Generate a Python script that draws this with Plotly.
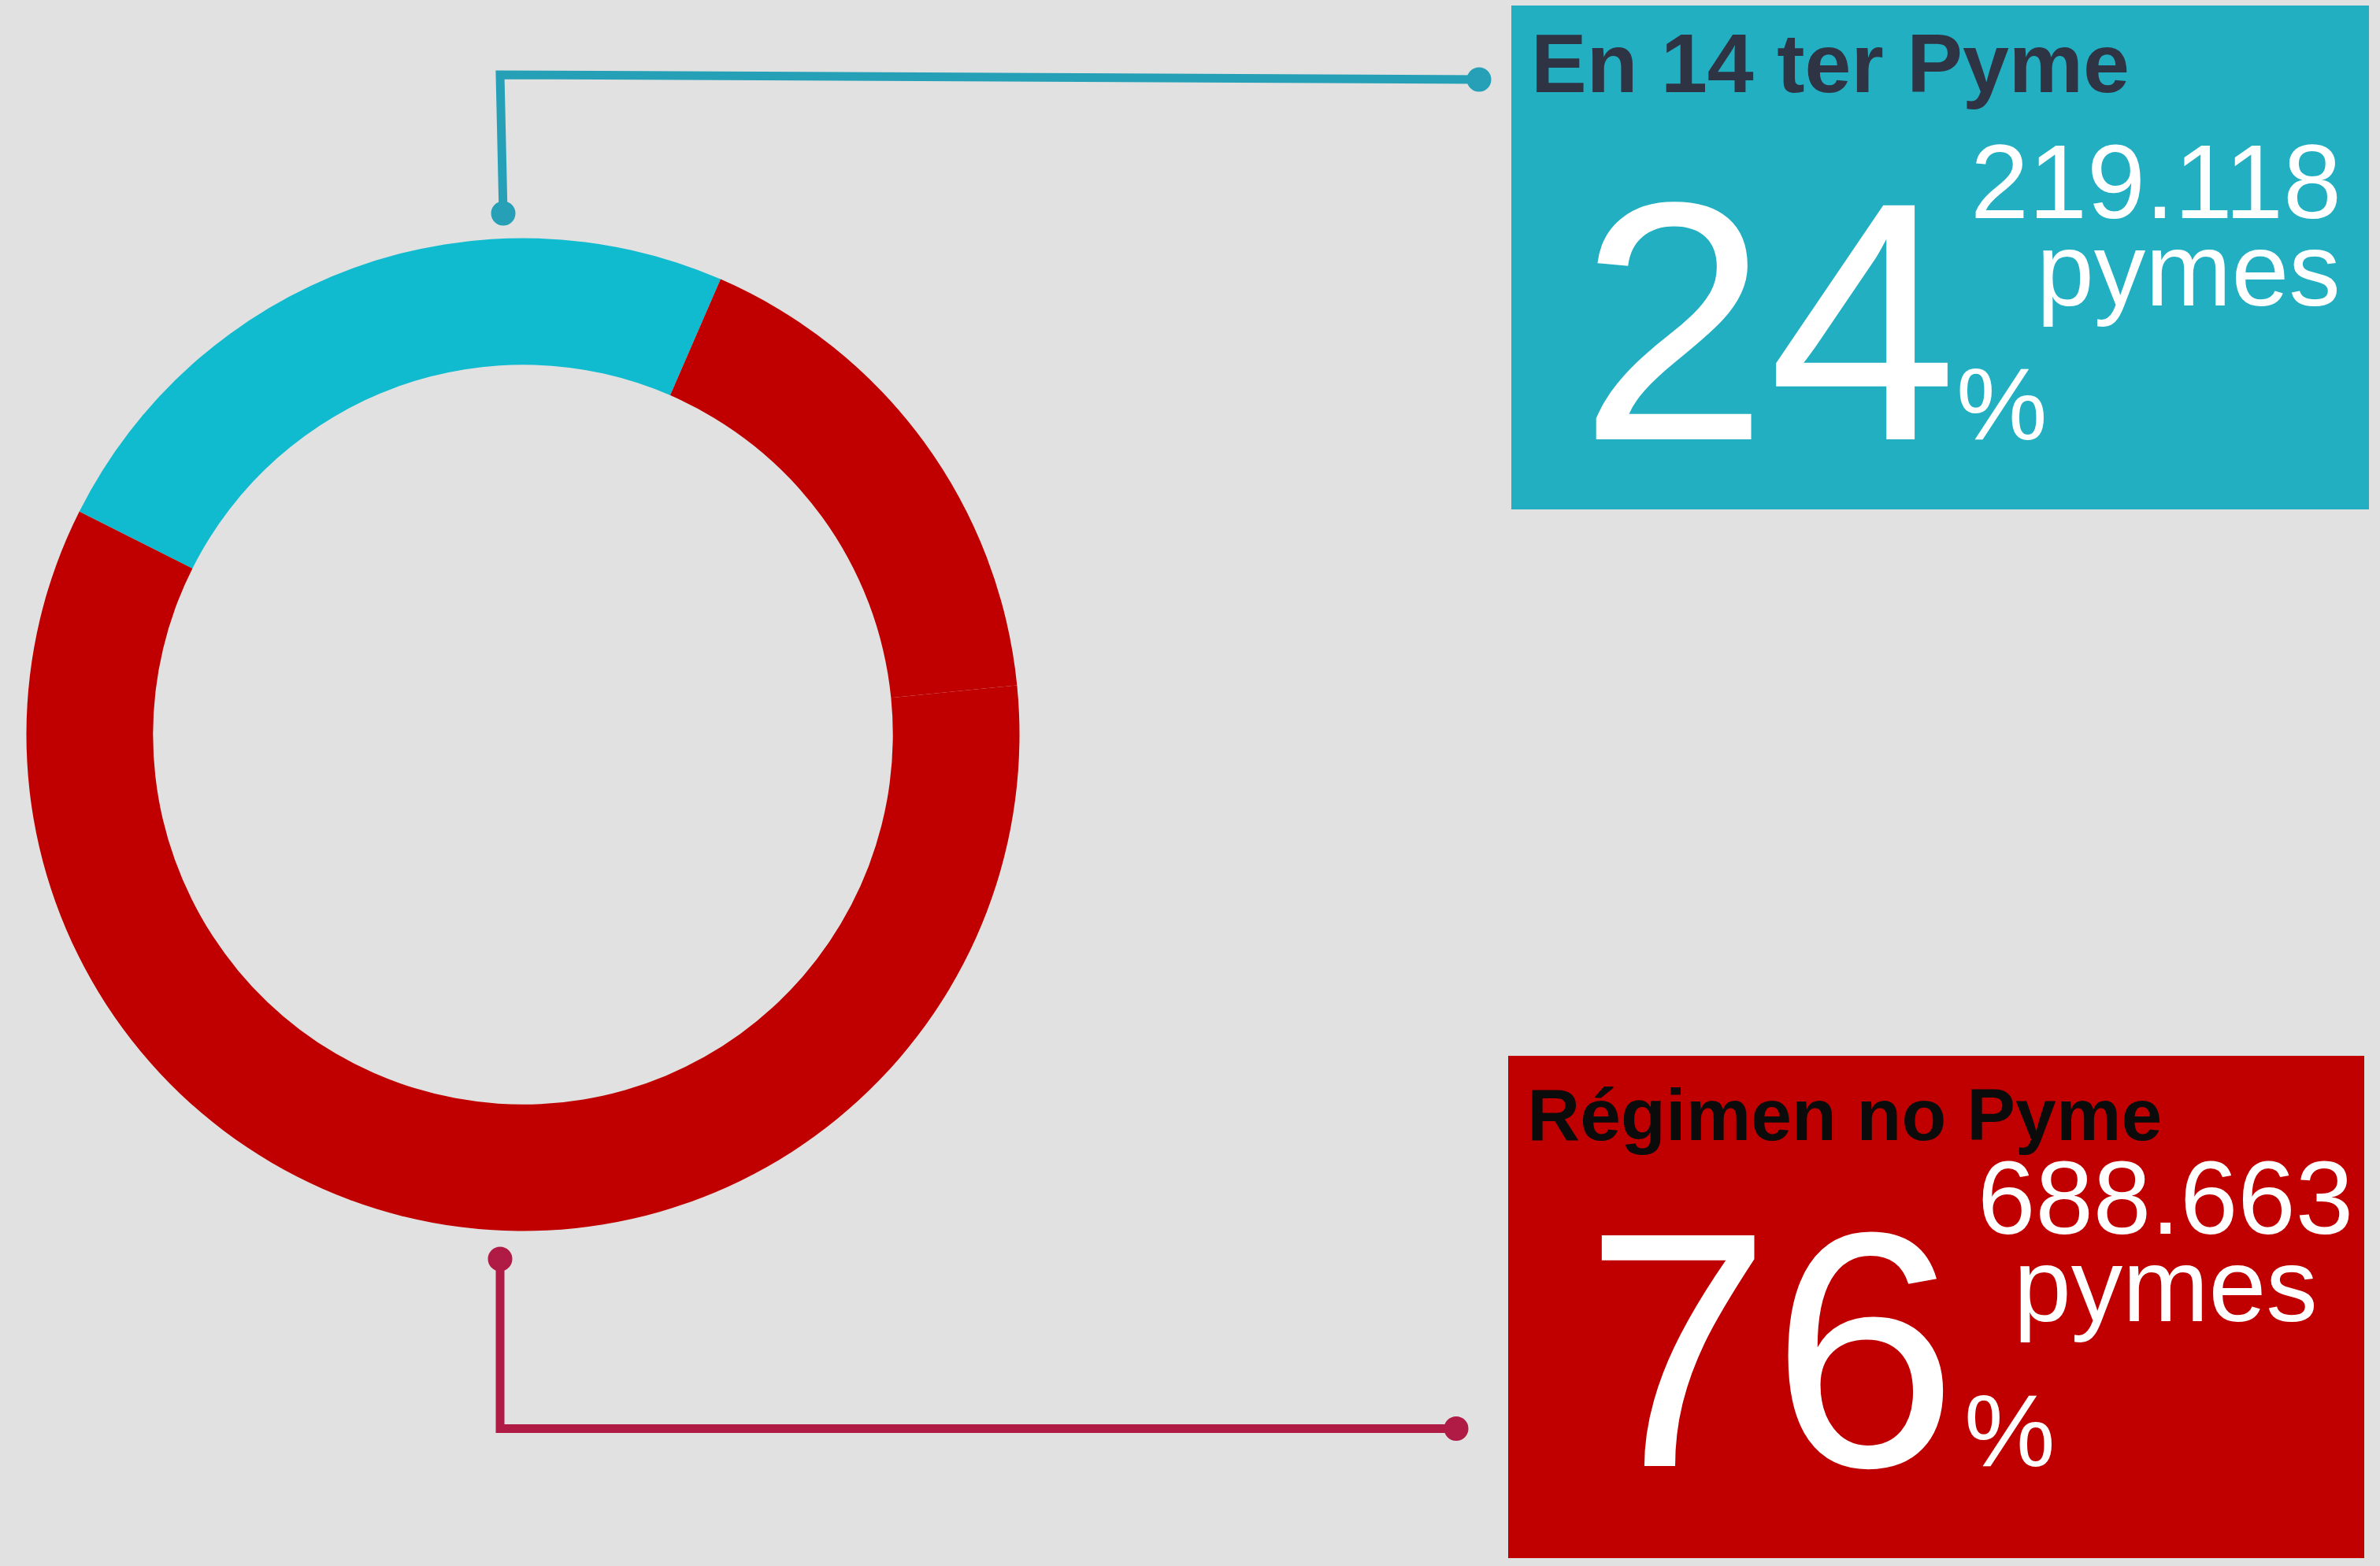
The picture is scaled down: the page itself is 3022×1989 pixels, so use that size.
import plotly.graph_objects as go

W, H = 3022, 1989

# ---- data ----
segment_labels = ["En 14 ter Pyme", "Régimen no Pyme (a)", "Régimen no Pyme (b)"]
segment_shares = [24.1, 16.9, 59.0]
segment_colors = ["#10BBCF", "#C00000", "#C00000"]

category_titles = ["En 14 ter Pyme", "Régimen no Pyme"]
category_percent = ["24", "76"]
category_counts = ["219.118", "688.663"]
count_unit = "pymes"

FONT = "Liberation Sans, Arial, Helvetica, sans-serif"
BG = "#E1E1E1"


def X(p):
    return p / W


def Y(p):
    return 1 - p / H


fig = go.Figure()

cx, cy, r = 664, 933, 630.5
fig.add_trace(go.Pie(
    values=segment_shares,
    labels=segment_labels,
    marker=dict(colors=segment_colors, line=dict(width=0)),
    hole=0.745,
    sort=False,
    direction="clockwise",
    rotation=-63.3,
    textinfo="none",
    hoverinfo="skip",
    showlegend=False,
    domain=dict(x=[X(cx - r), X(cx + r)], y=[Y(cy + r), Y(cy - r)]),
))

shapes = []
# info boxes
shapes.append(dict(type="rect", xref="paper", yref="paper", layer="below",
                   x0=X(1919), x1=X(3008), y0=Y(647), y1=Y(7),
                   fillcolor="#22AFC2", line=dict(width=0)))
shapes.append(dict(type="rect", xref="paper", yref="paper", layer="below",
                   x0=X(1915), x1=X(3002), y0=Y(1979), y1=Y(1341),
                   fillcolor="#C00000", line=dict(width=0)))


def path(points):
    return "M " + " L ".join(f"{X(a)},{Y(b)}" for a, b in points)


def dot(x, y, color, rr=15.5):
    return dict(type="circle", xref="paper", yref="paper",
                x0=X(x - rr), x1=X(x + rr), y0=Y(y + rr), y1=Y(y - rr),
                fillcolor=color, line=dict(width=0))


c_top = "#26A0B6"
c_bot = "#B01B46"
shapes.append(dict(type="path", xref="paper", yref="paper",
                   path=path([(639, 271), (635, 95), (1878, 101)]),
                   line=dict(color=c_top, width=11)))
shapes.append(dot(639, 271, c_top))
shapes.append(dot(1878, 101, c_top))
shapes.append(dict(type="path", xref="paper", yref="paper",
                   path=path([(635, 1599), (635, 1814.5), (1849, 1814.5)]),
                   line=dict(color=c_bot, width=11)))
shapes.append(dot(635, 1599, c_bot))
shapes.append(dot(1849, 1814.5, c_bot))

annotations = []


def ann(text, x, y, size, color, xanchor):
    annotations.append(dict(text=text, x=X(x), y=Y(y), xref="paper", yref="paper",
                            xanchor=xanchor, yanchor="middle", showarrow=False,
                            font=dict(family=FONT, size=size, color=color)))


def baseline_center(baseline, size):
    return baseline - 0.3465 * size


# top box
ann(f"<b>{category_titles[0]}</b>", 1942, baseline_center(117, 106), 106, "#2E3444", "left")
ann(category_percent[0], 2003, baseline_center(558, 432), 432, "white", "left")
ann("%", 2481.5, baseline_center(558, 130), 130, "white", "left")
ann(category_counts[0], 2975, baseline_center(277, 133), 133, "white", "right")
ann(count_unit, 2974, baseline_center(388, 131), 131, "white", "right")

# bottom box
ann(f"<b>{category_titles[1]}</b>", 1937, baseline_center(1448.5, 93), 93, "#0B0B0B", "left")
ann(category_percent[1], 2010, baseline_center(1862, 426), 426, "white", "left")
ann("%", 2491.5, baseline_center(1862.5, 130), 130, "white", "left")
ann(category_counts[1], 2749, baseline_center(1567.5, 132), 132, "white", "center")
ann(count_unit, 2749.5, baseline_center(1677.6, 131), 131, "white", "center")

fig.update_layout(
    width=W, height=H,
    margin=dict(l=0, r=0, t=0, b=0, pad=0),
    paper_bgcolor=BG, plot_bgcolor=BG,
    shapes=shapes, annotations=annotations,
    showlegend=False,
)

fig.write_html("out.html", config={"displayModeBar": False},
               post_script="document.body.style.margin='0';document.body.style.overflow='hidden';")
